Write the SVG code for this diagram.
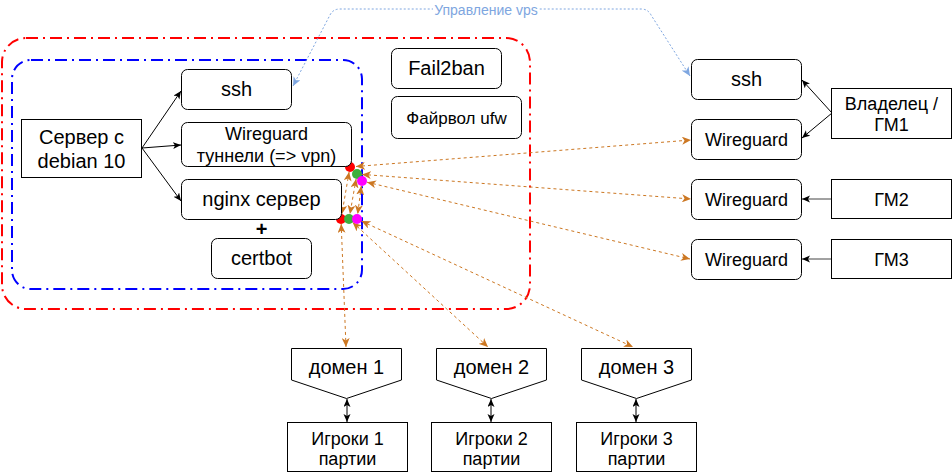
<svg xmlns="http://www.w3.org/2000/svg" width="952" height="473" viewBox="0 0 952 473">
<style>
text{font-family:"Liberation Sans",Arial,sans-serif;fill:#000;text-anchor:middle}
.b{fill:#fff;stroke:#000;stroke-width:1}
.f20{font-size:20px}
.f18{font-size:18px}
.f17{font-size:17px}
.or{fill:none;stroke:#CC7722;stroke-width:1;stroke-dasharray:3 3}
.bk{fill:none;stroke:#000;stroke-width:1}
</style>
<defs>
<marker id="ao" markerUnits="userSpaceOnUse" markerWidth="10" markerHeight="8" refX="9" refY="4" orient="auto-start-reverse">
<path d="M0,0 L9,4 L0,8 L2.5,4 z" fill="#CC7722"/>
</marker>
<marker id="ak" markerUnits="userSpaceOnUse" markerWidth="9" markerHeight="8" refX="8" refY="3.5" orient="auto-start-reverse">
<path d="M0,0 L8,3.5 L0,7 L2,3.5 z" fill="#000"/>
</marker>
<marker id="ab" markerUnits="userSpaceOnUse" markerWidth="10" markerHeight="8" refX="9" refY="4" orient="auto-start-reverse">
<path d="M0,0 L9,4 L0,8 L2.5,4 z" fill="#7EA6E0"/>
</marker>
</defs>
<rect width="952" height="473" fill="#fff"/>

<g id="containers">
<rect x="2" y="38" width="528" height="271" rx="24" fill="none" stroke="#FF0000" stroke-width="2" stroke-dasharray="12 5 2 5"/>
<rect x="12" y="60" width="350" height="229" rx="19" fill="none" stroke="#0000FF" stroke-width="2" stroke-dasharray="12 5 2 5"/>
</g>

<g id="connectors">
<path class="bk" d="M142,148 L181,91" marker-end="url(#ak)"/>
<path class="bk" d="M142,148 L181,145" marker-end="url(#ak)"/>
<path class="bk" d="M142,148 L181,201" marker-end="url(#ak)"/>
<path class="bk" d="M832,113 L802,80" marker-end="url(#ak)"/>
<path class="bk" d="M832,113 L802,138" marker-end="url(#ak)"/>
<path d="M832,199 L802,199" fill="none" stroke="#444" stroke-width="1" marker-end="url(#ak)"/>
<path d="M832,259 L802,259" fill="none" stroke="#444" stroke-width="1" marker-end="url(#ak)"/>
<path class="bk" d="M347,399 L347,422" marker-start="url(#ak)" marker-end="url(#ak)"/>
<path class="bk" d="M491,399 L491,422" marker-start="url(#ak)" marker-end="url(#ak)"/>
<path class="bk" d="M636,399 L636,422" marker-start="url(#ak)" marker-end="url(#ak)"/>

<path class="or" d="M356,166.5 L691,140" marker-start="url(#ao)" marker-end="url(#ao)"/>
<path class="or" d="M362,174.4 L691,199" marker-start="url(#ao)" marker-end="url(#ao)"/>
<path class="or" d="M367,182.2 L690,259" marker-start="url(#ao)" marker-end="url(#ao)"/>
<path class="or" d="M349.1,172 L341.9,214" marker-start="url(#ao)" marker-end="url(#ao)"/>
<path class="or" d="M356.1,179 L349.9,214" marker-start="url(#ao)" marker-end="url(#ao)"/>
<path class="or" d="M361.3,186 L357.7,214" marker-start="url(#ao)" marker-end="url(#ao)"/>
<path class="or" d="M341.2,224 L346,347" marker-start="url(#ao)" marker-end="url(#ao)"/>
<path class="or" d="M352.7,222.4 L488,347" marker-start="url(#ao)" marker-end="url(#ao)"/>
<path class="or" d="M361.5,221.1 L633,347" marker-start="url(#ao)" marker-end="url(#ao)"/>

<path d="M293,86 L330,15 Q333,9 340,9 L641,9 Q648,9 651,15 L690,76" fill="none" stroke="#7EA6E0" stroke-width="1" stroke-dasharray="2 2" marker-start="url(#ab)" marker-end="url(#ab)"/>
<rect x="433" y="1" width="106" height="17" fill="#fff"/>
<text x="486" y="15" style="font-size:14px;fill:#7EA6E0">Управление vps</text>
</g>

<g id="dots">
<circle cx="350" cy="167" r="5" fill="#FF0000"/>
<circle cx="357" cy="174" r="5" fill="#3DB03D"/>
<circle cx="362" cy="181" r="5" fill="#FF00FF"/>
<circle cx="341" cy="219" r="5" fill="#FF0000"/>
<circle cx="349" cy="219" r="5" fill="#3DB03D"/>
<circle cx="357" cy="219" r="5" fill="#FF00FF"/>
</g>

<g id="server"><rect class="b" x="21.5" y="119.5" width="120" height="58"/><text class="f20" x="81.5" y="144">Сервер с</text><text class="f20" x="81.5" y="168">debian 10</text></g>
<g id="ssh-inner"><rect class="b" x="181.5" y="69.5" width="110" height="40" rx="6"/><text class="f20" x="236.5" y="96">ssh</text></g>
<g id="wg-tunnels"><rect class="b" x="181.5" y="122.5" width="170" height="44" rx="6"/><text class="f18" x="266.5" y="140">Wireguard</text><text class="f18" x="266.5" y="162">туннели (=&gt; vpn)</text></g>
<g id="nginx"><rect class="b" x="181.5" y="179.5" width="160" height="40" rx="6"/><text class="f20" x="261.5" y="206">nginx сервер</text></g>
<g id="plus"><text x="261.5" y="236" style="font-size:20px;font-weight:bold">+</text></g>
<g id="certbot"><rect class="b" x="211.5" y="238.5" width="100" height="40" rx="6"/><text class="f20" x="261.5" y="265">certbot</text></g>
<g id="fail2ban"><rect class="b" x="391.5" y="48.5" width="110" height="40" rx="6"/><text class="f20" x="446.5" y="75">Fail2ban</text></g>
<g id="ufw"><rect class="b" x="391.5" y="96.5" width="130" height="42" rx="6"/><text class="f17" x="456.5" y="123.5">Файрвол ufw</text></g>

<g id="ssh-right"><rect class="b" x="691.5" y="59.5" width="110" height="40" rx="6"/><text class="f20" x="746.5" y="86">ssh</text></g>
<g id="wg1"><rect class="b" x="691.5" y="119.5" width="110" height="40" rx="6"/><text class="f18" x="746.5" y="145.5">Wireguard</text></g>
<g id="wg2"><rect class="b" x="691.5" y="179.5" width="110" height="40" rx="6"/><text class="f18" x="746.5" y="205.5">Wireguard</text></g>
<g id="wg3"><rect class="b" x="691.5" y="239.5" width="110" height="40" rx="6"/><text class="f18" x="746.5" y="265.5">Wireguard</text></g>
<g id="owner"><rect class="b" x="831.5" y="88.5" width="120" height="50"/><text class="f18" x="891.5" y="109.5">Владелец /</text><text class="f18" x="891.5" y="131">ГМ1</text></g>
<g id="gm2"><rect class="b" x="831.5" y="179.5" width="120" height="39"/><text class="f18" x="891.5" y="205.5">ГМ2</text></g>
<g id="gm3"><rect class="b" x="831.5" y="239.5" width="120" height="39"/><text class="f18" x="891.5" y="265.5">ГМ3</text></g>

<g id="domain1"><path class="b" d="M291.5,348.5 L401.5,348.5 L401.5,380 L346.5,398.5 L291.5,380 Z"/><text class="f20" x="346.5" y="373.5">домен 1</text></g>
<g id="domain2"><path class="b" d="M436.5,348.5 L546.5,348.5 L546.5,380 L491.5,398.5 L436.5,380 Z"/><text class="f20" x="491.5" y="373.5">домен 2</text></g>
<g id="domain3"><path class="b" d="M581.5,348.5 L691.5,348.5 L691.5,380 L636.5,398.5 L581.5,380 Z"/><text class="f20" x="636.5" y="373.5">домен 3</text></g>

<g id="players1"><rect class="b" x="287.5" y="422.5" width="120" height="49"/><text class="f18" x="347.5" y="444.5">Игроки 1</text><text class="f18" x="347.5" y="464.5">партии</text></g>
<g id="players2"><rect class="b" x="431.5" y="422.5" width="120" height="49"/><text class="f18" x="491.5" y="444.5">Игроки 2</text><text class="f18" x="491.5" y="464.5">партии</text></g>
<g id="players3"><rect class="b" x="576.5" y="422.5" width="120" height="49"/><text class="f18" x="636.5" y="444.5">Игроки 3</text><text class="f18" x="636.5" y="464.5">партии</text></g>
</svg>
